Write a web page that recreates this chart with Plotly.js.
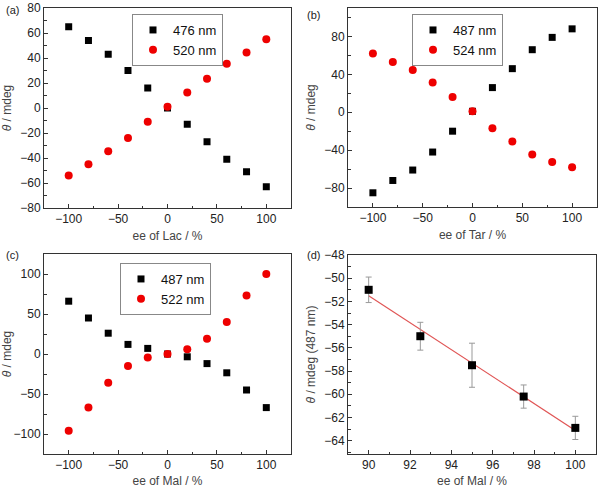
<!DOCTYPE html>
<html>
<head>
<meta charset="utf-8">
<script src="https://cdn.plot.ly/plotly-3.0.1.min.js"></script>
<style>html,body{margin:0;padding:0;background:#fff}#chart{width:600px;height:488px}</style>
</head>
<body>
<div id="chart"></div>
<script>
// ---- data ----
var eeX = [-100, -80, -60, -40, -20, 0, 20, 40, 60, 80, 100];
// (a) Lac
var lac476 = [65, 54, 43, 30, 16, 0, -13, -27, -41, -51, -63];
var lac520 = [-54, -45, -34.5, -24, -11, 1, 12.5, 23.5, 35.5, 44.5, 55];
// (b) Tar
var tar487 = [-85, -72, -61, -42, -20, 1, 26, 46, 66, 79, 88];
var tar524 = [62, 53, 44.5, 31.5, 16, 1, -17, -31, -44.5, -52.5, -58];
// (c) Mal
var mal487 = [66, 45, 26, 12, 7, 0, -3.5, -12, -23.5, -45, -67];
var mal522 = [-96, -67, -36, -15, -4.5, 0, 6, 19, 40, 73, 100];
// (d) Mal high ee
var dX = [90, 92.5, 95, 97.5, 100];
var dY = [-51, -55, -57.5, -60.2, -62.9];
var dErr = [1.1, 1.2, 1.9, 1.0, 1.0];
var seriesNames = {a: ['476 nm', '520 nm'], b: ['487 nm', '524 nm'], c: ['487 nm', '522 nm']};

// linear fit for (d)
var n = dX.length, mx = 0, my = 0;
for (var i = 0; i < n; i++) { mx += dX[i]; my += dY[i]; }
mx /= n; my /= n;
var sxy = 0, sxx = 0;
for (var i = 0; i < n; i++) { sxy += (dX[i]-mx)*(dY[i]-my); sxx += (dX[i]-mx)*(dX[i]-mx); }
var slope = sxy / sxx, icpt = my - slope*mx;
var fitX = [dX[0], dX[n-1]];
var fitY = fitX.map(function(x){ return icpt + slope*x; });

var sq = {symbol: 'square', size: 7, color: '#000'};
var ci = {symbol: 'circle', size: 8, color: '#ee0000'};

var traces = [
  {x: eeX, y: lac476, mode: 'markers', marker: sq, name: seriesNames.a[0], xaxis: 'x', yaxis: 'y', legend: 'legend'},
  {x: eeX, y: lac520, mode: 'markers', marker: ci, name: seriesNames.a[1], xaxis: 'x', yaxis: 'y', legend: 'legend'},
  {x: eeX, y: tar487, mode: 'markers', marker: sq, name: seriesNames.b[0], xaxis: 'x2', yaxis: 'y2', legend: 'legend2'},
  {x: eeX, y: tar524, mode: 'markers', marker: ci, name: seriesNames.b[1], xaxis: 'x2', yaxis: 'y2', legend: 'legend2'},
  {x: eeX, y: mal487, mode: 'markers', marker: sq, name: seriesNames.c[0], xaxis: 'x3', yaxis: 'y3', legend: 'legend3'},
  {x: eeX, y: mal522, mode: 'markers', marker: ci, name: seriesNames.c[1], xaxis: 'x3', yaxis: 'y3', legend: 'legend3'},
  {x: fitX, y: fitY, mode: 'lines', line: {color: '#e05555', width: 1.2}, showlegend: false, xaxis: 'x4', yaxis: 'y4'},
  {x: dX, y: dY, mode: 'markers', marker: {symbol: 'square', size: 8, color: '#000'},
   error_y: {type: 'data', array: dErr, visible: true, color: '#999', thickness: 1, width: 3},
   showlegend: false, xaxis: 'x4', yaxis: 'y4'}
];

var W = 600, H = 488;
function dx(l, r) { return [l / W, r / W]; }
function dy(t, b) { return [1 - b / H, 1 - t / H]; }

var tickFont = {family: 'Liberation Sans, Arial, sans-serif', size: 12, color: '#222'};
var titleFont = {family: 'Liberation Sans, Arial, sans-serif', size: 12, color: '#444'};

function ax(opts) {
  return {
    showline: true, linecolor: '#333', linewidth: 1, mirror: true,
    ticks: 'inside', ticklen: 4, tickcolor: '#333', tickwidth: 1,
    showgrid: false, zeroline: false, tickfont: tickFont,
    minor: {ticks: 'inside', ticklen: 2.5, tickcolor: '#333', dtick: opts.minor},
    range: opts.range, dtick: opts.dtick, tick0: opts.tick0 || 0,
    domain: opts.domain, anchor: opts.anchor,
    title: {text: opts.title, font: titleFont, standoff: opts.standoff || 6},
    fixedrange: true
  };
}

function leg(left, top) {
  return {x: left / W, y: 1 - top / H, xanchor: 'left', yanchor: 'top', bordercolor: '#888', borderwidth: 1,
          bgcolor: 'rgba(255,255,255,0)', font: {size: 13, color: '#111'}, tracegroupgap: 0};
}

var layout = {
  width: W, height: H,
  margin: {l: 0, r: 0, t: 0, b: 0},
  paper_bgcolor: '#fff', plot_bgcolor: '#fff',
  showlegend: true,
  font: {family: 'Liberation Sans, Arial, sans-serif'},
  xaxis: ax({range: [-125, 125], dtick: 50, minor: 25, domain: dx(44, 291), anchor: 'y', title: 'ee of Lac / %'}),
  yaxis: ax({range: [-80, 80], dtick: 20, minor: 10, domain: dy(8, 208), anchor: 'x', title: '<i>θ</i> / mdeg'}),
  xaxis2: ax({range: [-125, 125], dtick: 50, minor: 25, domain: dx(348, 597), anchor: 'y2', title: 'ee of Tar / %'}),
  yaxis2: ax({range: [-100, 110], dtick: 40, tick0: 0, minor: 20, domain: dy(8, 207), anchor: 'x2', title: '<i>θ</i> / mdeg'}),
  xaxis3: ax({range: [-125, 125], dtick: 50, minor: 25, domain: dx(44, 291), anchor: 'y3', title: 'ee of Mal / %'}),
  yaxis3: ax({range: [-125, 125], dtick: 50, minor: 25, domain: dy(254, 454), anchor: 'x3', title: '<i>θ</i> / mdeg'}),
  xaxis4: ax({range: [89, 101], dtick: 2, minor: 1, domain: dx(348, 596), anchor: 'y4', title: 'ee of Mal / %'}),
  yaxis4: ax({range: [-65.15, -48], dtick: 2, minor: 1, domain: dy(255, 454), anchor: 'x4', title: '<i>θ</i> / mdeg (487 nm)'}),
  legend: leg(132, 14),
  legend2: leg(412, 14),
  legend3: leg(120, 263),
  annotations: [
    {text: '(a)', x: 4/W, y: 1 - 10/H, xref: 'paper', yref: 'paper', xanchor: 'left', yanchor: 'middle', showarrow: false, font: {size: 11, color: '#222'}},
    {text: '(b)', x: 305/W, y: 1 - 15/H, xref: 'paper', yref: 'paper', xanchor: 'left', yanchor: 'middle', showarrow: false, font: {size: 11, color: '#222'}},
    {text: '(c)', x: 4/W, y: 1 - 255/H, xref: 'paper', yref: 'paper', xanchor: 'left', yanchor: 'middle', showarrow: false, font: {size: 11, color: '#222'}},
    {text: '(d)', x: 305/W, y: 1 - 255/H, xref: 'paper', yref: 'paper', xanchor: 'left', yanchor: 'middle', showarrow: false, font: {size: 11, color: '#222'}}
  ]
};

Plotly.newPlot('chart', traces, layout, {displayModeBar: false, staticPlot: true});
</script>
</body>
</html>
